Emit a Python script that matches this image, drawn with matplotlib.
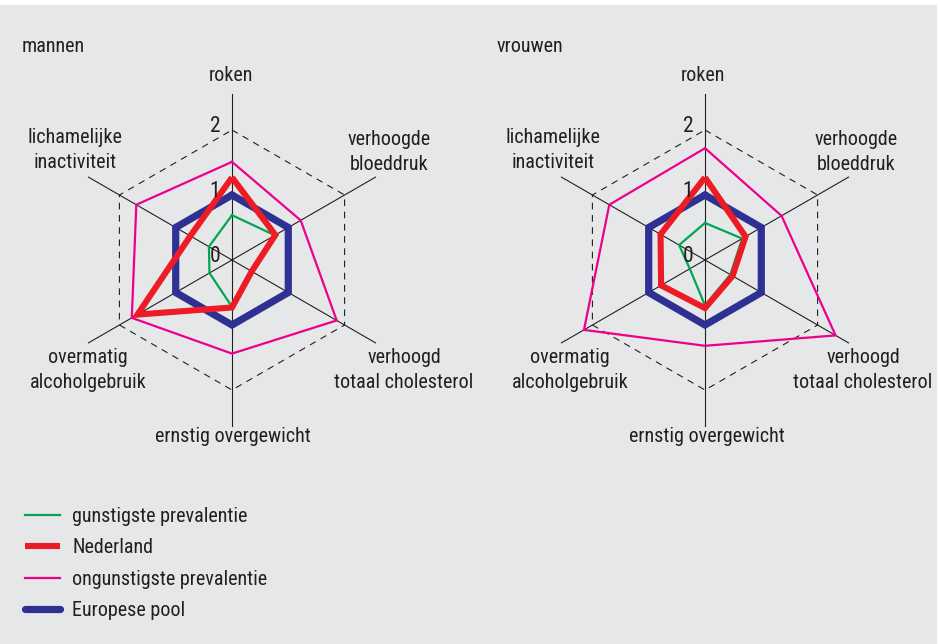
import numpy as np
import matplotlib
matplotlib.use("Agg")
import matplotlib.pyplot as plt
from matplotlib import font_manager
from matplotlib.patches import Rectangle

# ======================================
# DATA (ratio to European pool = 1)
# ======================================

categories = [
    "roken",
    "verhoogde\nbloeddruk",
    "verhoogd\ntotaal cholesterol",
    "ernstig overgewicht",
    "overmatig\nalcoholgebruik",
    "lichamelijke\ninactiviteit",
]

axis_angles = [90, 30, -30, -90, 210, 150]

men_best = [0.69, 0.76, 0.34, 0.72, 0.40, 0.41]
men_nl = [1.27, 0.77, 0.35, 0.73, 1.68, 0.74]
men_worst = [1.51, 1.22, 1.86, 1.44, 1.78, 1.70]

women_best = [0.57, 0.66, 0.45, 0.70, 0.27, 0.46]
women_nl = [1.27, 0.72, 0.49, 0.74, 0.78, 0.79]
women_worst = [1.72, 1.36, 2.32, 1.32, 2.15, 1.70]

europe = [1, 1, 1, 1, 1, 1]

ring_ticks = [0, 1, 2]

legend_labels = [
    "gunstigste prevalentie",
    "Nederland",
    "ongunstigste prevalentie",
    "Europese pool",
]

# ======================================
# FONT: prefer a narrow sans, like the original
# ======================================

def find_narrow():
    bad = ("bold", "italic", "oblique", "light", "thin", "medium",
           "semibold", "black", "extra")
    prefs = ["Liberation Sans Narrow", "Roboto Condensed", "Noto Sans",
             "Open Sans", "Roboto", "Lato", "Inter", "DejaVu Sans"]
    found = []
    for f in font_manager.fontManager.ttflist:
        base = f.fname.lower().rsplit("/", 1)[-1]
        stem = base.rsplit(".", 1)[0]
        narrow = ("narrow" in stem or "condensed" in stem
                  or f.stretch in ("condensed", "semi-condensed"))
        if not narrow:
            continue
        if "extracondensed" in stem or "semicondensed" in stem \
                or "ultracondensed" in stem:
            continue
        check = stem.replace("condensed", "").replace("narrow", "")
        if any(b in check for b in bad):
            continue
        if f.style != "normal" or f.weight not in (400, "normal", "regular"):
            continue
        rank = prefs.index(f.name) if f.name in prefs else len(prefs)
        found.append((rank, f.fname))
    if found:
        found.sort()
        return found[0][1]
    return None


narrow_file = find_narrow()
if narrow_file:
    FP = font_manager.FontProperties(fname=narrow_file)
    FS = 14.5
else:
    FP = font_manager.FontProperties(family="Liberation Sans")
    FS = 13
FP.set_size(FS)

TXT = "#231f20"
BG = "#e6e7e9"

GREEN = "#00a651"
RED = "#ed1c24"
MAGENTA = "#ec008c"
BLUE = "#2e3192"

W, H = 940, 644
UNIT = 65.0  # pixels per unit

fig = plt.figure(figsize=(W / 100, H / 100), dpi=100, facecolor=BG)

fig.patches.append(
    Rectangle((0, 1 - 5 / H), 1, 5 / H, transform=fig.transFigure,
              facecolor="white", edgecolor="none", zorder=0)
)
fig.patches.append(
    Rectangle((1 - 3 / W, 0), 3 / W, 1, transform=fig.transFigure,
              facecolor="white", edgecolor="none", zorder=0)
)


def to_xy(values):
    ang = np.radians(axis_angles)
    v = np.asarray(values, dtype=float)
    x = v * np.cos(ang)
    y = v * np.sin(ang)
    return np.append(x, x[0]), np.append(y, y[0])


def radar(cx, cy, best, nl, worst, label_pos):
    # axes placed so that data (0, 0) is at pixel (cx, cy)
    left_px, right_px = cx - 225, cx + 225
    top_px, bottom_px = cy - 230, cy + 200
    ax = fig.add_axes([
        left_px / W,
        (H - bottom_px) / H,
        (right_px - left_px) / W,
        (bottom_px - top_px) / H,
    ])
    ax.set_xlim(-225 / UNIT, 225 / UNIT)
    ax.set_ylim(-200 / UNIT, 230 / UNIT)
    ax.axis("off")

    ang = np.radians(axis_angles)
    for a in ang:
        ax.plot([0, 2.55 * np.cos(a)], [0, 2.55 * np.sin(a)],
                color="#231f20", lw=0.8, zorder=1)

    gx, gy = to_xy([2] * 6)
    ax.plot(gx, gy, color="#231f20", lw=0.8, ls=(0, (6, 5)), zorder=1)

    for t in ring_ticks:
        ax.text(-0.26, t + 0.06, str(t), fontproperties=FP, color=TXT,
                fontsize=FS + 1, ha="center", va="center", zorder=5)

    x, y = to_xy(europe)
    lb, = ax.plot(x, y, color=BLUE, lw=5.2, solid_joinstyle="miter",
                  solid_capstyle="round", zorder=2)
    x, y = to_xy(best)
    lg, = ax.plot(x, y, color=GREEN, lw=1.6, zorder=3)
    x, y = to_xy(worst)
    lm, = ax.plot(x, y, color=MAGENTA, lw=1.6, zorder=3)
    x, y = to_xy(nl)
    lr, = ax.plot(x, y, color=RED, lw=4.4, solid_joinstyle="miter",
                  solid_capstyle="butt", zorder=4)

    for name, (px, py) in zip(categories, label_pos):
        ax.text((px - cx) / UNIT, (cy - py) / UNIT, name, fontproperties=FP,
                color=TXT, ha="center", va="center",
                multialignment="center", linespacing=1.35)
    return [lg, lr, lm, lb]


handles = radar(
    232, 260, men_best, men_nl, men_worst,
    [(231, 76), (389, 152), (404, 370), (233, 437), (88, 370), (75, 150)],
)
radar(
    705, 260, women_best, women_nl, women_worst,
    [(703, 76), (856, 152), (863, 370), (707, 437), (570, 370), (553, 150)],
)

fig.text(22 / W, 1 - 47 / H, "mannen", fontproperties=FP, color=TXT,
         ha="left", va="center")
fig.text(497 / W, 1 - 47 / H, "vrouwen", fontproperties=FP, color=TXT,
         ha="left", va="center")

fs_px = FS * 100 / 72
leg = fig.legend(
    handles, legend_labels,
    loc="upper left",
    bbox_to_anchor=(25 / W, 1 - (517 - 0.5 * fs_px) / H),
    frameon=False,
    prop=FP,
    handlelength=35 / fs_px,
    handletextpad=12 / fs_px,
    labelspacing=(31 - 0.92 * fs_px) / fs_px,
    borderpad=0,
    borderaxespad=0,
)
for t in leg.get_texts():
    t.set_color(TXT)

fig.savefig("out.png", dpi=100, facecolor=BG)
